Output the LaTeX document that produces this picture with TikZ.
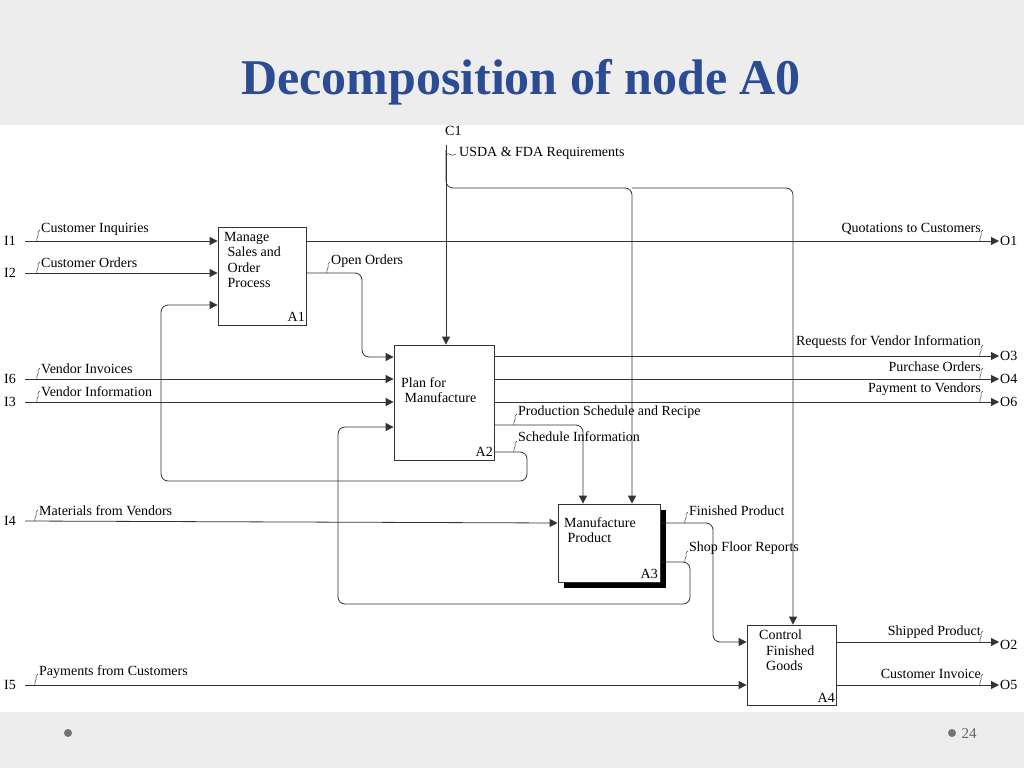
\documentclass[tikz,border=0pt]{standalone}
\usepackage{fontspec}
\setmainfont{Liberation Serif}
\usetikzlibrary{arrows.meta}
\definecolor{ttl}{HTML}{2B4C93}
\begin{document}
\begin{tikzpicture}[x=1pt,y=-1pt,
  ln/.style={draw=black!80,line width=0.8pt,rounded corners=7pt},
  ar/.style={ln,-{Triangle[length=8pt,width=8pt]}},
  lb/.style={font=\fontsize{14}{16}\selectfont,inner sep=1pt},
  box/.style={draw=black!80,line width=0.8pt,fill=white},
  bt/.style={font=\fontsize{14}{15.5}\selectfont,align=left,anchor=north west,inner sep=0pt},
  sq/.style={draw=black!80,line width=0.5pt}]
\useasboundingbox (0,0) rectangle (1024,768);
\fill[black!7] (0,0) rectangle (1024,768);
\fill[white] (0,125) rectangle (1024,712);
\node[font=\bfseries\fontsize{50}{54}\selectfont,text=ttl] (title) at (521,82) {Decomposition of node A0};
\fill[black!55] (68,733) circle (4);
\fill[black!55] (952,733) circle (4);
\node[font=\fontsize{15}{16}\selectfont,text=black!60,anchor=west] (pg) at (958,734) {24};

% boxes
\node[box,minimum width=88,minimum height=98] (A1) at (262,276) {};
\node[box,minimum width=100,minimum height=115] (A2) at (444,402.5) {};
\fill[black] (564,510) rectangle (666,588);
\node[box,minimum width=102,minimum height=78] (A3) at (609,543) {};
\node[box,minimum width=89,minimum height=80] (A4) at (791.5,665) {};
\node[bt] (t1) at (224,232) {Manage\\\ Sales and\\\ Order\\\ Process};
\node[bt,anchor=south east] (n1) at (305,322) {A1};
\node[bt] (t2) at (401,377) {Plan for\\\ Manufacture};
\node[bt,anchor=south east] (n2) at (493,457) {A2};
\node[bt] (t3) at (564,517) {Manufacture\\\ Product};
\node[bt,anchor=south east] (n3) at (658,579) {A3};
\node[bt] (t4) at (759,630) {Control\\\ \ Finished\\\ \ Goods};
\node[bt,anchor=south east] (n4) at (835,703) {A4};

% side labels
\foreach \n/\y in {I1/241,I2/273,I6/379,I3/402,I4/521,I5/685}{\node[lb,anchor=west] (\n) at (3,\y) {\n};}
\foreach \n/\y in {O1/241,O2/645,O3/356,O4/379,O5/685,O6/402}{\node[lb,anchor=west] (\n) at (999,\y) {\n};}
\node[lb,anchor=west] (C1) at (444,131) {C1};

% inputs
\draw[ar] (I1.east) ++(8,0) -- (A1.west |- 0,241);
\draw[ar] (I2.east) ++(8,0) -- (A1.west |- 0,273);
\draw[ar] (I6.east) ++(8,0) -- (A2.west |- 0,379);
\draw[ar] (I3.east) ++(8,0) -- (A2.west |- 0,402);
\draw[ar] (I4.east) ++(8,0) -- (A3.west |- 0,523);
\draw[ar] (I5.east) ++(8,0) -- (A4.west |- 0,685);
% outputs
\draw[ar] (A1.east |- 0,241) -- (O1.west);
\draw[ar] (A2.east |- 0,356) -- (O3.west);
\draw[ar] (A2.east |- 0,379) -- (O4.west);
\draw[ar] (A2.east |- 0,402) -- (O6.west);
\draw[ar] (A4.east |- 0,642) -- (O2.west |- 0,642);
\draw[ar] (A4.east |- 0,685) -- (O5.west);
% control
\draw[ar] (446,145) -- (A2.north -| 446,0);
\draw[ar] (446,150) -- (446,188) -- (632,188) -- (A3.north -| 632,0);
\draw[ar] (632,188) -- (793,188) -- (A4.north -| 793,0);
% internal
\draw[ar] (A1.east |- 0,273) -- (362,273) -- (362,357) -- (A2.west |- 0,357);
\draw[ar] (A2.east |- 0,452) -- (527,452) -- (527,481) -- (161,481) -- (161,305) -- (A1.west |- 0,305);
\draw[ar] (A2.east |- 0,425) -- (583,425) -- (A3.north -| 583,0);
\draw[ar] (A3.east |- 0,562) -- (690,562) -- (690,604) -- (338,604) -- (338,427) -- (A2.west |- 0,427);
\draw[ar] (A3.east |- 0,523) -- (713,523) -- (713,642) -- (A4.west |- 0,642);

% labels
\node[lb,anchor=south west] (l1) at (40,237) {Customer Inquiries};
\node[lb,anchor=south west] (l2) at (40,269) {Customer Orders};
\node[lb,anchor=south west] (l3) at (40,375) {Vendor Invoices};
\node[lb,anchor=south west] (l4) at (40,398) {Vendor Information};
\node[lb,anchor=south west] (l5) at (38,517) {Materials from Vendors};
\node[lb,anchor=south west] (l6) at (38,680) {Payments from Customers};
\node[lb,anchor=south west] (l7) at (330,269) {Open Orders};
\node[lb,anchor=south east] (r1) at (982,236) {Quotations to Customers};
\node[lb,anchor=south east] (r2) at (982,350) {Requests for Vendor Information};
\node[lb,anchor=south east] (r3) at (982,373) {Purchase Orders};
\node[lb,anchor=south east] (r4) at (982,397) {Payment to Vendors};
\node[lb,anchor=south east] (r5) at (982,640) {Shipped Product};
\node[lb,anchor=south east] (r6) at (982,680) {Customer Invoice};
\node[lb,anchor=south west] (m1) at (517,420) {Production Schedule and Recipe};
\node[lb,anchor=south west] (m2) at (517,443) {Schedule Information};
\node[lb,anchor=south west] (m3) at (688,517) {Finished Product};
\node[lb,anchor=south west] (m4) at (688,556) {Shop Floor Reports};
\node[lb,anchor=west] (c1l) at (458,153) {USDA \& FDA Requirements};
% squiggles
\foreach \x/\y in {37/241,37/273,37/379,37/402,35/521,35/685,327/273,514/425,514/452,685/523,685/562}
  {\draw[sq] (\x,\y) .. controls (\x-1,\y-4) and (\x+2,\y-4) .. (\x+1,\y-8) .. controls (\x+1,\y-9) .. (\x+3,\y-11);}
\foreach \x/\y in {980/241,980/356,980/379,980/402,980/642,980/685}
  {\draw[sq] (\x,\y) .. controls (\x-1,\y-4) and (\x+2,\y-4) .. (\x+1,\y-8) .. controls (\x+1,\y-9) .. (\x+3,\y-11);}
\draw[sq] (446,155) .. controls (449,151) and (451,158) .. (456,154);
\end{tikzpicture}
\end{document}
